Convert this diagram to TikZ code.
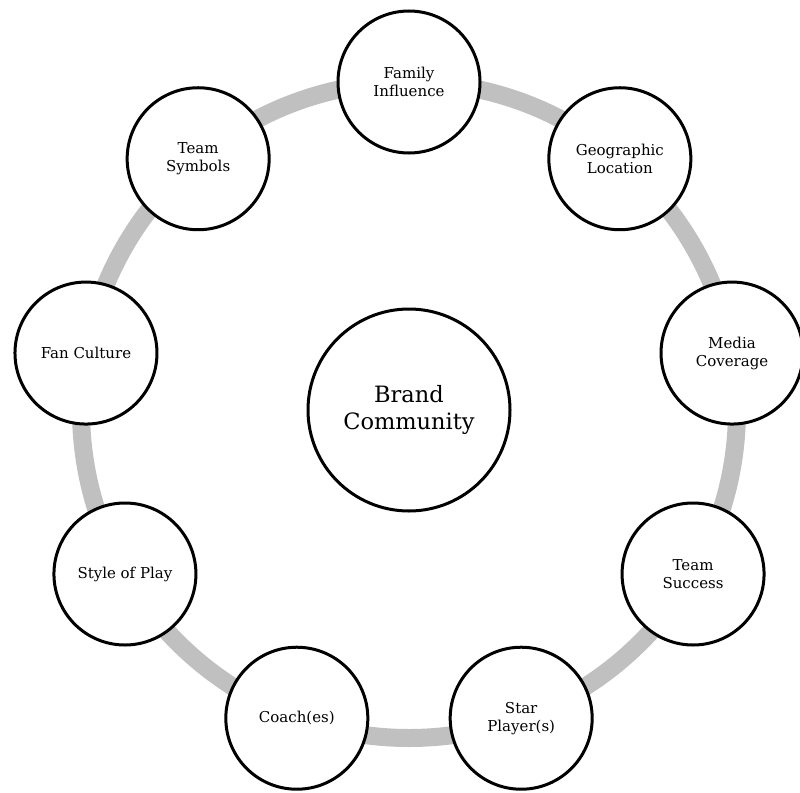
\documentclass[tikz,border=0pt]{standalone}
\usepackage{fontspec}
\setmainfont{DejaVu Serif}
\definecolor{ringgray}{RGB}{192,192,192}
\begin{document}
\begin{tikzpicture}[x=1pt,y=1pt,
  ring/.style={line width=18pt, draw=ringgray},
  hub/.style={circle, draw=black, line width=3pt, fill=white,
    minimum size=202pt, inner sep=0pt, align=center,
    font=\fontsize{22.5}{27}\selectfont},
  factor/.style={circle, draw=black, line width=3pt, fill=white,
    minimum size=142pt, inner sep=0pt, align=center,
    font=\fontsize{15}{18}\selectfont}]
\useasboundingbox (0,0) rectangle (800,-792);
\coordinate (c) at (409,-410);
% the band linking the factors
\draw[ring] (c) circle (328);
% central concept
\node[hub] (brand) at (c) {Brand\\Community};
% surrounding factors, 40 degrees apart
\node[factor] (family)   at ([shift={(90:328)}]c)  {Family\\Influence};
\node[factor] (geo)      at ([shift={(50:328)}]c)  {Geographic\\Location};
\node[factor] (media)    at ([shift={(10:328)}]c)  {Media\\Coverage};
\node[factor] (success)  at ([shift={(-30:328)}]c) {Team\\Success};
\node[factor] (star)     at ([shift={(-70:328)}]c) {Star\\Player(s)};
\node[factor] (coach)    at ([shift={(-110:328)}]c) {Coach(es)};
\node[factor] (style)    at ([shift={(-150:328)}]c) {Style of Play};
\node[factor] (fan)      at ([shift={(170:328)}]c) {Fan Culture};
\node[factor] (symbols)  at ([shift={(130:328)}]c) {Team\\Symbols};
\end{tikzpicture}
\end{document}
